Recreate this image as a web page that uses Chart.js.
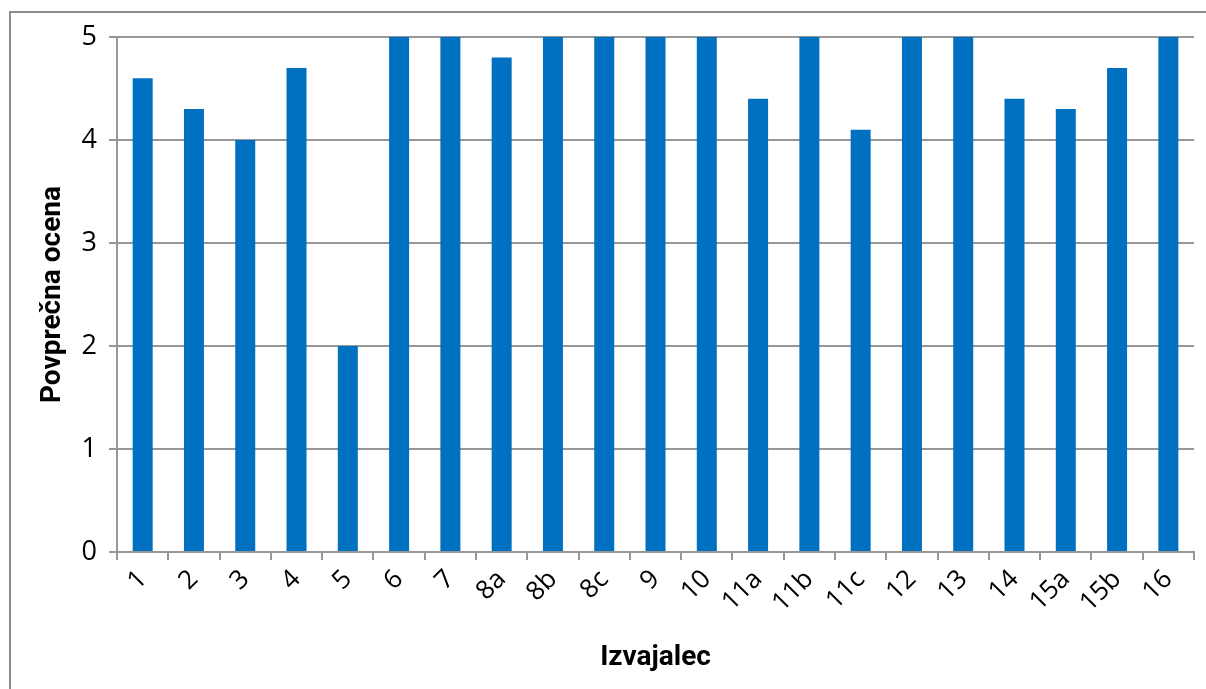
<!DOCTYPE html>
<html lang="sl">
<head>
    <meta charset="UTF-8">
    <script src="https://cdn.jsdelivr.net/npm/chart.js"></script>
    <title>Povprečna ocena po izvajalcih</title>
    <style>
        body {
            margin: 0;
            padding: 0;
            background-color: #ffffff;
            overflow: hidden;
        }

        .okvir {
            position: absolute;
            left: 9px;
            top: 11px;
            width: 1210px;
            height: 690px;
            border: 2px solid #8c8c8c;
        }

        .chart-container {
            position: absolute;
            left: 0;
            top: 0;
            width: 1206px;
            height: 689px;
        }
    </style>
</head>
<body>
    <div class="okvir"></div>
    <div class="chart-container">
        <canvas id="ocenaChart"></canvas>
    </div>

    <script>
        // podatki
        const izvajalci = ['1', '2', '3', '4', '5', '6', '7', '8a', '8b', '8c', '9', '10',
            '11a', '11b', '11c', '12', '13', '14', '15a', '15b', '16'];
        const ocene = [4.6, 4.3, 4.0, 4.7, 2.0, 5, 5, 4.8, 5, 5, 5, 5,
            4.4, 5, 4.1, 5, 5, 4.4, 4.3, 4.7, 5];
        const oznakeY = [0, 1, 2, 3, 4, 5];

        const sivaCrta = '#979797';

        new Chart(document.getElementById('ocenaChart').getContext('2d'), {
            type: 'bar',
            data: {
                labels: izvajalci,
                datasets: [{
                    label: 'Povprečna ocena',
                    data: ocene,
                    backgroundColor: '#0070c0',
                    categoryPercentage: 1,
                    barPercentage: 0.39
                }]
            },
            options: {
                responsive: true,
                maintainAspectRatio: false,
                animation: false,
                layout: {
                    padding: { top: 37, right: 12, left: 36, bottom: 14 }
                },
                plugins: {
                    legend: { display: false },
                    tooltip: { enabled: false }
                },
                scales: {
                    x: {
                        grid: {
                            drawOnChartArea: false,
                            drawTicks: true,
                            tickLength: 8,
                            color: sivaCrta,
                            lineWidth: 2
                        },
                        border: { color: sivaCrta, width: 2 },
                        ticks: {
                            minRotation: 45,
                            maxRotation: 45,
                            padding: 4,
                            color: '#000000',
                            font: { family: 'Open Sans', size: 26 }
                        },
                        title: {
                            display: true,
                            text: 'Izvajalec',
                            color: '#000000',
                            padding: { top: 19, bottom: 0 },
                            font: { family: 'Roboto', size: 28, weight: 'bold' }
                        }
                    },
                    y: {
                        min: 0,
                        max: 5,
                        afterBuildTicks: function (axis) {
                            axis.ticks = oznakeY.map(v => ({ value: v }));
                        },
                        grid: {
                            color: sivaCrta,
                            lineWidth: 2,
                            tickLength: 8
                        },
                        border: { color: sivaCrta, width: 2 },
                        ticks: {
                            padding: 12,
                            color: '#000000',
                            font: { family: 'Open Sans', size: 27 }
                        },
                        title: {
                            display: true,
                            text: 'Povprečna ocena',
                            color: '#000000',
                            padding: { top: 0, bottom: 0 },
                            font: { family: 'Roboto', size: 28, weight: 'bold' }
                        }
                    }
                }
            }
        });
    </script>
</body>
</html>
